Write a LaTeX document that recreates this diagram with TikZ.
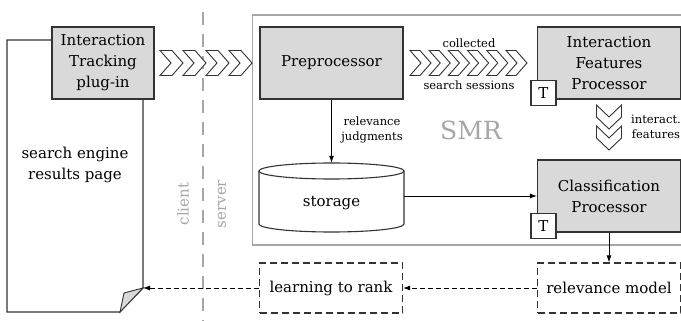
\documentclass[tikz,border=0pt]{standalone}
\usepackage{fontspec}
\setmainfont{DejaVu Serif}
\usetikzlibrary{arrows.meta,calc}
\definecolor{boxgray}{HTML}{D9D9D9}
\definecolor{linegray}{HTML}{333333}
\definecolor{softgray}{HTML}{A6A6A6}
\newcommand\lbl{\fontsize{15}{21}\selectfont}
\newcommand\sml{\fontsize{11.5}{15}\selectfont}
\begin{document}
\begin{tikzpicture}[x=1pt,y=-1pt,
  proc/.style={draw=linegray, line width=1.1pt, fill=boxgray, minimum width=143pt,
    minimum height=72pt, inner sep=0pt, align=center, font=\lbl},
  future/.style={draw=linegray, line width=1.1pt, dash pattern=on 7pt off 4pt, fill=white,
    minimum width=143pt, minimum height=50pt, inner sep=0pt, align=center, font=\lbl},
  tag/.style={draw=linegray, line width=1.1pt, fill=white, minimum size=25pt,
    inner sep=0pt, font=\lbl},
  chev/.style={draw=linegray, line width=0.9pt, fill=white, line join=miter},
  arr/.style={draw=black, line width=0.9pt, -{Latex[length=7pt,width=5pt]}},
  darr/.style={arr, dash pattern=on 5pt off 3pt},
  note/.style={font=\sml, align=center, inner sep=0pt},
  side/.style={font=\lbl, text=softgray, inner sep=0pt, rotate=90}]
\useasboundingbox (0,0) rectangle (681,321);
\clip (0,0) rectangle (681,321);

% client / server divider
\draw[softgray, line width=2.5pt, dash pattern=on 13pt off 9pt] (203,12) -- (203,330);
\node[side] (client) at (183,204) {client};
\node[side] (server) at (222,204) {server};

% SMR frame
\draw[softgray, line width=1.3pt] (252.5,15) rectangle (700,245);
\node[font=\fontsize{25}{30}\selectfont, text=softgray, inner sep=0pt] (smr) at (471,130) {SMR};

% client side
\node[proc, minimum width=102pt] (plugin) at (103,63) {Interaction\\Tracking\\plug-in};
\coordinate (pagecorner) at (143,288);
\draw[linegray, line width=1.1pt, line join=miter]
  (plugin.west |- 0,40) -- (7,40) -- (7,312) -- (120,312) -- (pagecorner)
  -- (pagecorner |- plugin.south);
\draw[linegray, line width=0.9pt, fill=boxgray, line join=miter]
  (120,312) -- (124,293) -- (pagecorner) -- cycle;
\node[font=\lbl, align=center, inner sep=0pt] (serp) at (75,165) {search engine\\results page};

% server side processors
\node[proc] (pre) at (331.5,63) {Preprocessor};
\node[proc] (ifp) at (609,63) {Interaction\\Features\\Processor};
\node[proc] (cls) at (609,196) {Classification\\Processor};
\node[tag] (t1) at ($(ifp.south west)+(6.5,-6.5)$) {T};
\node[tag] (t2) at ($(cls.south west)+(6.5,-6.5)$) {T};

% storage cylinder
\node[minimum width=145pt, minimum height=66pt, inner sep=0pt, font=\lbl] (store) at (331.5,196) {};
\draw[linegray, line width=1.1pt, fill=white]
  (259,171) -- (259,224) arc[start angle=180, end angle=0, x radius=72.5, y radius=8]
  -- (404,171);
\draw[linegray, line width=1.1pt, fill=white] (331.5,171) ellipse[x radius=72.5, y radius=8];
\node[font=\lbl, inner sep=0pt] at (331.5,203) {storage};

% ranking stages
\node[future] (relm) at (609,288) {relevance model};
\node[future] (ltr) at (331,288) {learning to rank};

% interaction stream: plug-in to preprocessor
\foreach \i in {0,...,3} {
  \pgfmathsetmacro\xx{160+23*\i}
  \draw[chev] (\xx,50.5) -- ++(12,0) -- ++(11,12.5) -- ++(-11,12.5) -- ++(-12,0)
    -- ++(11,-12.5) -- cycle;
}
% collected sessions: preprocessor to features processor
\foreach \i in {0,...,5} {
  \pgfmathsetmacro\xx{410+19.2*\i}
  \draw[chev] (\xx,50.5) -- ++(10,0) -- ++(11,12.5) -- ++(-11,12.5) -- ++(-10,0)
    -- ++(11,-12.5) -- cycle;
}
\node[note] (coll) at (469,43) {collected};
\node[note] (sess) at (469,85) {search sessions};
% features: features processor to classification
\foreach \i in {0,...,1} {
  \pgfmathsetmacro\yy{105+21*\i}
  \draw[chev] (596.5,\yy) -- ++(12.5,12) -- ++(12.5,-12) -- ++(0,12) -- ++(-12.5,12)
    -- ++(-12.5,-12) -- cycle;
}
\node[note] (feat) at (656,127) {interact.\\features};

% connectors
\draw[arr] (pre.south) -- (store.north);
\node[note] (judg) at (372,130) {relevance\\judgments};
\draw[arr] (store.east) -- (cls.west);
\draw[arr] (cls.south) -- (relm.north);
\draw[darr] (relm.west) -- (ltr.east);
\draw[darr] (ltr.west) -- (pagecorner);
\end{tikzpicture}
\end{document}
